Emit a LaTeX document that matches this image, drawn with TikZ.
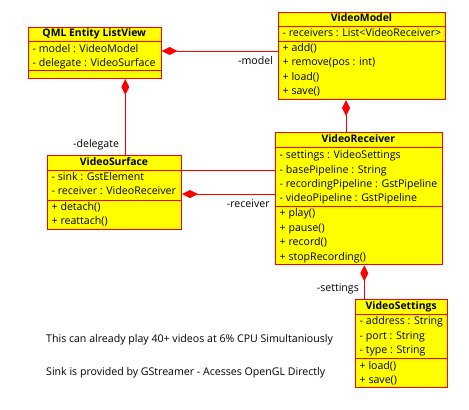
\documentclass[tikz,border=0pt]{standalone}
\usepackage{fontspec}
\setmainfont{Open Sans}
\usetikzlibrary{arrows.meta}
\definecolor{umlred}{HTML}{FF0000}
\definecolor{umlyellow}{HTML}{FFFF00}
\tikzset{
  cls/.style={draw=umlred, fill=umlyellow, line width=1pt, inner sep=0pt, anchor=north west},
  sep/.style={draw=umlred, line width=1pt},
  ttl/.style={font=\fontsize{10.4}{11}\selectfont\bfseries, inner sep=0pt, anchor=mid},
  row/.style={font=\fontsize{10.6}{12}\selectfont, inner sep=0pt, anchor=mid west},
  lbl/.style={font=\fontsize{10.6}{12}\selectfont, inner sep=0pt, anchor=mid west},
  note/.style={font=\fontsize{10.6}{12}\selectfont, inner sep=0pt, anchor=mid west},
  comp/.style={draw=umlred, line width=1pt, {Diamond[length=16pt,width=8pt,fill=umlred,line width=0pt]}-},
  assoc/.style={draw=umlred, line width=1pt},
}
\begin{document}
\begin{tikzpicture}[x=1pt,y=-1pt]
\useasboundingbox (0,0) rectangle (469,410);
% QML Entity ListView
\node[cls, minimum width=132.7pt, minimum height=51pt] (lv) at (28,27) {};
\node[ttl] (lvt) at (94.3,34) {QML Entity ListView};
\draw[sep] (28,41.3) -- (160.7,41.3);
\node[row] (lva1) at (32.5,50) {- model : VideoModel};
\node[row] (lva2) at (32.5,64.3) {- delegate : VideoSurface};
\draw[sep] (28,70.7) -- (160.7,70.7);
% VideoModel
\node[cls, minimum width=167pt, minimum height=87pt] (vm) at (278,12) {};
\node[ttl] (vmt) at (361.5,19) {VideoModel};
\draw[sep] (278,26) -- (445,26);
\node[row] (vma1) at (282.5,34.3) {- receivers : List<VideoReceiver>};
\draw[sep] (278,41) -- (445,41);
\node[row] (vmo1) at (282.5,48.5) {+ add()};
\node[row] (vmo2) at (282.5,63) {+ remove(pos : int)};
\node[row] (vmo3) at (282.5,77.5) {+ load()};
\node[row] (vmo4) at (282.5,92) {+ save()};
% VideoSurface
\node[cls, minimum width=134pt, minimum height=74pt] (vs) at (47,155) {};
\node[ttl] (vst) at (114,163) {VideoSurface};
\draw[sep] (47,170.7) -- (181,170.7);
\node[row] (vsa1) at (51.5,178.3) {- sink : GstElement};
\node[row] (vsa2) at (51.5,192.3) {- receiver : VideoReceiver};
\draw[sep] (47,200.7) -- (181,200.7);
\node[row] (vso1) at (51.5,207.7) {+ detach()};
\node[row] (vso2) at (51.5,221.5) {+ reattach()};
% VideoReceiver
\node[cls, minimum width=166.7pt, minimum height=132pt] (vr) at (275,132.3) {};
\node[ttl] (vrt) at (358.3,140) {VideoReceiver};
\draw[sep] (275,147.3) -- (441.7,147.3);
\node[row] (vra1) at (279.5,155.7) {- settings : VideoSettings};
\node[row] (vra2) at (279.5,170.7) {- basePipeline : String};
\node[row] (vra3) at (279.5,185) {- recordingPipeline : GstPipeline};
\node[row] (vra4) at (279.5,199) {- videoPipeline : GstPipeline};
\draw[sep] (275,206) -- (441.7,206);
\node[row] (vro1) at (279.5,214.3) {+ play()};
\node[row] (vro2) at (279.5,228.5) {+ pause()};
\node[row] (vro3) at (279.5,243) {+ record()};
\node[row] (vro4) at (279.5,257.5) {+ stopRecording()};
% VideoSettings
\node[cls, minimum width=92.3pt, minimum height=88pt] (st) at (355,299.3) {};
\node[ttl] (stt) at (401.2,306.7) {VideoSettings};
\draw[sep] (355,314) -- (447.3,314);
\node[row] (sta1) at (359.5,322.3) {- address : String};
\node[row] (sta2) at (359.5,336.7) {- port : String};
\node[row] (sta3) at (359.5,351.3) {- type : String};
\draw[sep] (355,358.7) -- (447.3,358.7);
\node[row] (sto1) at (359.5,366.7) {+ load()};
\node[row] (sto2) at (359.5,380.5) {+ save()};
% connectors
\draw[comp] (lv.east |- 0,51) -- (vm.west |- 0,51);
\node[lbl] (lmodel) at (238,61.7) {-model};
\draw[comp] (lv.south -| 125.3,0) -- (vs.north -| 125.3,0);
\node[lbl] (ldeleg) at (73,145) {-delegate};
\draw[comp] (vm.south -| 346,0) -- (vr.north -| 346,0);
\draw[assoc] (vs.east |- 0,170.7) -- (vr.west |- 0,170.7);
\draw[comp] (vs.east |- 0,194) -- (vr.west |- 0,194);
\node[lbl] (lrecv) at (226.7,205.3) {-receiver};
\draw[comp] (vr.south -| 364.3,0) -- (st.north -| 364.3,0);
\node[lbl] (lsett) at (316.7,289.3) {-settings};
% notes
\node[note] (n1) at (46,340) {This can already play 40+ videos at 6\% CPU Simultaniously};
\node[note] (n2) at (46,373) {Sink is provided by GStreamer - Acesses OpenGL Directly};
\end{tikzpicture}
\end{document}
